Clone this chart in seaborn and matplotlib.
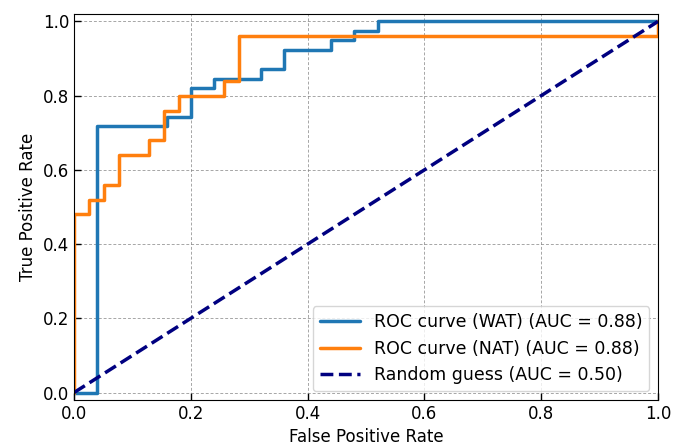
import numpy as np
import pandas as pd
import seaborn as sns
import matplotlib
matplotlib.use("Agg")
import matplotlib.pyplot as plt

# ROC points (corner points of the step curves)
wat_fpr = [0, 0.04, 0.04, 0.16, 0.16, 0.20, 0.20, 0.24, 0.24, 0.32, 0.32,
           0.36, 0.36, 0.44, 0.44, 0.48, 0.48, 0.52, 0.52, 1.0]
wat_tpr = [0, 0, 28/39, 28/39, 29/39, 29/39, 32/39, 32/39, 33/39, 33/39, 34/39,
           34/39, 36/39, 36/39, 37/39, 37/39, 38/39, 38/39, 1.0, 1.0]

nat_fpr = [0, 0, 1/39, 1/39, 2/39, 2/39, 3/39, 3/39, 5/39, 5/39, 6/39,
           6/39, 7/39, 7/39, 10/39, 10/39, 11/39, 11/39, 1.0, 1.0]
nat_tpr = [0, 0.48, 0.48, 0.52, 0.52, 0.56, 0.56, 0.64, 0.64, 0.68, 0.68,
           0.76, 0.76, 0.80, 0.80, 0.84, 0.84, 0.96, 0.96, 1.0]

rand_fpr = [0, 1]
rand_tpr = [0, 1]

labels = ["ROC curve (WAT) (AUC = 0.88)",
          "ROC curve (NAT) (AUC = 0.88)",
          "Random guess (AUC = 0.50)"]

sns.set_style("ticks")
plt.rcParams['font.family'] = ['DejaVu Sans']
plt.rcParams['text.color'] = 'black'
plt.rcParams['axes.labelcolor'] = 'black'
plt.rcParams['xtick.color'] = 'black'
plt.rcParams['ytick.color'] = 'black'

fig = plt.figure(figsize=(6.91, 4.45), dpi=100)
ax = fig.add_axes([74/691, 1 - 400/445, 584/691, 386/445])

sns.lineplot(x=wat_fpr, y=wat_tpr, sort=False, estimator=None, ax=ax,
             color="#1f77b4", lw=2.5, label=labels[0])
sns.lineplot(x=nat_fpr, y=nat_tpr, sort=False, estimator=None, ax=ax,
             color="#ff7f0e", lw=2.5, label=labels[1])
sns.lineplot(x=rand_fpr, y=rand_tpr, sort=False, estimator=None, ax=ax,
             color="navy", lw=2.5, linestyle="--", label=labels[2])

ax.set_xlim(0, 1)
ax.set_ylim(-0.02, 1.02)
ax.set_xticks([0, 0.2, 0.4, 0.6, 0.8, 1.0])
ax.set_yticks([0, 0.2, 0.4, 0.6, 0.8, 1.0])
ax.tick_params(direction="in", labelsize=12, length=5, width=1)
ax.grid(True, linestyle=(0, (3, 2)), color="gray", alpha=0.7, lw=0.7)
ax.set_xlabel("False Positive Rate", fontsize=12)
ax.set_ylabel("True Positive Rate", fontsize=12)
for s in ax.spines.values():
    s.set_color("black")
ax.legend(loc="lower right", fontsize=12.5, handlelength=2.3)

fig.savefig("out.png", dpi=100)
